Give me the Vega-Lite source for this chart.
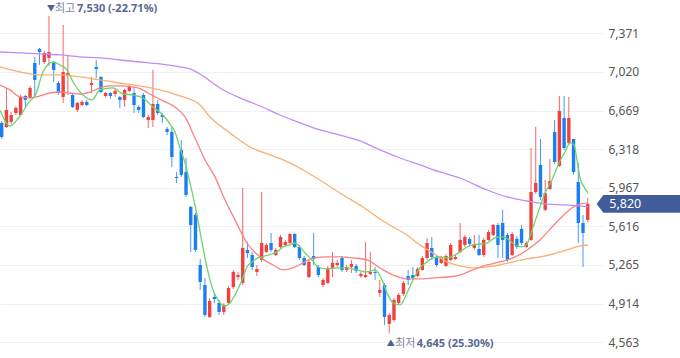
{
  "$schema": "https://vega.github.io/schema/vega-lite/v6.json",
  "width": 603,
  "height": 358,
  "autosize": {"type": "none"},
  "padding": {"left": 0, "top": 0, "right": 77, "bottom": 0},
  "background": "white",
  "view": {"stroke": null},
  "config": {"font": "Noto Sans", "axisY": {"orient": "right", "domain": false, "ticks": false, "labelPadding": 5, "labelFontSize": 12, "labelColor": "#555555", "labelFont": "Noto Sans", "grid": true, "gridColor": "#eff0f3", "gridWidth": 1, "labelFlush": false, "title": null}},
  "datasets": {
    "candles": [
      {"i":0,"o":6557,"h":6575,"l":6411,"c":6429},{"i":1,"o":6520,"h":6875,"l":6511,"c":6675},{"i":2,"o":6566,"h":6657,"l":6547,"c":6629},{"i":3,"o":6647,"h":6711,"l":6629,"c":6693},{"i":4,"o":6629,"h":6811,"l":6620,"c":6793},
      {"i":5,"o":6802,"h":6811,"l":6693,"c":6766},{"i":6,"o":6784,"h":6893,"l":6775,"c":6875},{"i":7,"o":7102,"h":7157,"l":6793,"c":6948},{"i":8,"o":7229,"h":7239,"l":7084,"c":7202},{"i":9,"o":7111,"h":7211,"l":7093,"c":7193},
      {"i":10,"o":7148,"h":7530,"l":7075,"c":7202},{"i":11,"o":7102,"h":7120,"l":6929,"c":7039},{"i":12,"o":6920,"h":6938,"l":6811,"c":6829},{"i":13,"o":6793,"h":7448,"l":6738,"c":7020},{"i":14,"o":6984,"h":7175,"l":6811,"c":7011},
      {"i":15,"o":6811,"h":6820,"l":6693,"c":6702},{"i":16,"o":6675,"h":6748,"l":6657,"c":6738},{"i":17,"o":6720,"h":6766,"l":6711,"c":6748},{"i":18,"o":6748,"h":6766,"l":6711,"c":6720},{"i":19,"o":6902,"h":6975,"l":6829,"c":6920},
      {"i":20,"o":7066,"h":7129,"l":6966,"c":7048},{"i":21,"o":6975,"h":6984,"l":6829,"c":6838},{"i":22,"o":6802,"h":6838,"l":6784,"c":6829},{"i":23,"o":6829,"h":6838,"l":6775,"c":6802},{"i":24,"o":6820,"h":6875,"l":6793,"c":6848},
      {"i":25,"o":6793,"h":6802,"l":6693,"c":6766},{"i":26,"o":6766,"h":6866,"l":6702,"c":6857},{"i":27,"o":6848,"h":6902,"l":6838,"c":6884},{"i":28,"o":6829,"h":6884,"l":6647,"c":6720},{"i":29,"o":6702,"h":6720,"l":6647,"c":6675},
      {"i":30,"o":6811,"h":6829,"l":6602,"c":6611},{"i":31,"o":6584,"h":6629,"l":6511,"c":6611},{"i":32,"o":6584,"h":7039,"l":6520,"c":6729},{"i":33,"o":6729,"h":6766,"l":6629,"c":6647},{"i":34,"o":6629,"h":6647,"l":6557,"c":6611},
      {"i":35,"o":6502,"h":6520,"l":6447,"c":6475},{"i":36,"o":6475,"h":6520,"l":6156,"c":6247},{"i":37,"o":6066,"h":6111,"l":6011,"c":6056},{"i":38,"o":6311,"h":6402,"l":6066,"c":6084},{"i":39,"o":6111,"h":6238,"l":5884,"c":5902},
      {"i":40,"o":5793,"h":5800,"l":5384,"c":5629},{"i":41,"o":5720,"h":5738,"l":5384,"c":5402},{"i":42,"o":5265,"h":5320,"l":5038,"c":5111},{"i":43,"o":5083,"h":5147,"l":4793,"c":4811},{"i":44,"o":4793,"h":4965,"l":4783,"c":4938},
      {"i":45,"o":4974,"h":5002,"l":4920,"c":4956},{"i":46,"o":4920,"h":4947,"l":4811,"c":4838},{"i":47,"o":4838,"h":4920,"l":4811,"c":4902},{"i":48,"o":4920,"h":5074,"l":4911,"c":5056},{"i":49,"o":5065,"h":5220,"l":5047,"c":5202},
      {"i":50,"o":5156,"h":5202,"l":5129,"c":5174},{"i":51,"o":5102,"h":5965,"l":5083,"c":5420},{"i":52,"o":5402,"h":5474,"l":5329,"c":5374},{"i":53,"o":5356,"h":5384,"l":5220,"c":5247},{"i":54,"o":5202,"h":5265,"l":5165,"c":5229},
      {"i":55,"o":5311,"h":5929,"l":5293,"c":5465},{"i":56,"o":5384,"h":5465,"l":5374,"c":5447},{"i":57,"o":5465,"h":5556,"l":5384,"c":5402},{"i":58,"o":5356,"h":5420,"l":5347,"c":5402},{"i":59,"o":5429,"h":5538,"l":5420,"c":5520},
      {"i":60,"o":5447,"h":5493,"l":5438,"c":5474},{"i":61,"o":5465,"h":5556,"l":5456,"c":5547},{"i":62,"o":5547,"h":5556,"l":5420,"c":5429},{"i":63,"o":5429,"h":5447,"l":5311,"c":5329},{"i":64,"o":5329,"h":5347,"l":5256,"c":5265},
      {"i":65,"o":5156,"h":5311,"l":5147,"c":5293},{"i":66,"o":5347,"h":5556,"l":5265,"c":5320},{"i":67,"o":5247,"h":5265,"l":5156,"c":5174},{"i":68,"o":5083,"h":5147,"l":5065,"c":5129},{"i":69,"o":5102,"h":5256,"l":5093,"c":5238},
      {"i":70,"o":5238,"h":5384,"l":5156,"c":5284},{"i":71,"o":5265,"h":5311,"l":5247,"c":5284},{"i":72,"o":5329,"h":5347,"l":5202,"c":5220},{"i":73,"o":5220,"h":5265,"l":5202,"c":5247},{"i":74,"o":5247,"h":5311,"l":5193,"c":5274},
      {"i":75,"o":5256,"h":5274,"l":5193,"c":5211},{"i":76,"o":5165,"h":5202,"l":5147,"c":5184},{"i":77,"o":5156,"h":5474,"l":5147,"c":5174},{"i":78,"o":5184,"h":5384,"l":5174,"c":5202},{"i":79,"o":5202,"h":5247,"l":5129,"c":5193},
      {"i":80,"o":5011,"h":5129,"l":4974,"c":5038},{"i":81,"o":5083,"h":5102,"l":4720,"c":4793},{"i":82,"o":4729,"h":4829,"l":4645,"c":4811},{"i":83,"o":4765,"h":4965,"l":4747,"c":4947},{"i":84,"o":4920,"h":5011,"l":4902,"c":4993},
      {"i":85,"o":5002,"h":5120,"l":4984,"c":5102},{"i":86,"o":5165,"h":5220,"l":5083,"c":5129},{"i":87,"o":5174,"h":5247,"l":5129,"c":5147},{"i":88,"o":5165,"h":5247,"l":5156,"c":5229},{"i":89,"o":5220,"h":5347,"l":5211,"c":5329},
      {"i":90,"o":5329,"h":5511,"l":5311,"c":5465},{"i":91,"o":5420,"h":5520,"l":5311,"c":5338},{"i":92,"o":5338,"h":5356,"l":5247,"c":5265},{"i":93,"o":5284,"h":5347,"l":5274,"c":5329},{"i":94,"o":5256,"h":5365,"l":5247,"c":5347},
      {"i":95,"o":5311,"h":5465,"l":5302,"c":5447},{"i":96,"o":5320,"h":5356,"l":5311,"c":5338},{"i":97,"o":5384,"h":5647,"l":5374,"c":5493},{"i":98,"o":5447,"h":5538,"l":5429,"c":5520},{"i":99,"o":5502,"h":5520,"l":5438,"c":5456},
      {"i":100,"o":5420,"h":5538,"l":5402,"c":5456},{"i":101,"o":5411,"h":5538,"l":5347,"c":5356},{"i":102,"o":5356,"h":5511,"l":5338,"c":5493},{"i":103,"o":5493,"h":5584,"l":5484,"c":5565},{"i":104,"o":5538,"h":5638,"l":5529,"c":5629},
      {"i":105,"o":5629,"h":5647,"l":5329,"c":5447},{"i":106,"o":5647,"h":5766,"l":5329,"c":5493},{"i":107,"o":5538,"h":5556,"l":5293,"c":5311},{"i":108,"o":5356,"h":5565,"l":5347,"c":5547},{"i":109,"o":5502,"h":5529,"l":5411,"c":5429},
      {"i":110,"o":5593,"h":5629,"l":5447,"c":5465},{"i":111,"o":5429,"h":5484,"l":5420,"c":5465},{"i":112,"o":5493,"h":6329,"l":5484,"c":5929},{"i":113,"o":5929,"h":6520,"l":5911,"c":6011},{"i":114,"o":6175,"h":6411,"l":5856,"c":5884},
      {"i":115,"o":5766,"h":6038,"l":5756,"c":5920},{"i":116,"o":5956,"h":6229,"l":5947,"c":6029},{"i":117,"o":6475,"h":6584,"l":6184,"c":6202},{"i":118,"o":6166,"h":6802,"l":6156,"c":6666},{"i":119,"o":6602,"h":6802,"l":6311,"c":6329},
      {"i":120,"o":6375,"h":6793,"l":6356,"c":6602},{"i":121,"o":6411,"h":6411,"l":6084,"c":6111},{"i":122,"o":6020,"h":6193,"l":5465,"c":5647},{"i":123,"o":5647,"h":5720,"l":5247,"c":5556},{"i":124,"o":5675,"h":5875,"l":5656,"c":5820}
    ],
    "ma5": [
      {"i":-0.36,"v":6675},{"i":1.76,"v":6529},{"i":3.87,"v":6620},{"i":5.99,"v":6757},{"i":7.05,"v":6802},{"i":8.74,"v":7020},{"i":10.85,"v":7111},{"i":12.34,"v":7084},{"i":13.82,"v":7040},{"i":15.09,"v":6929},
      {"i":17.2,"v":6811},{"i":19.11,"v":6766},{"i":20.8,"v":6857},{"i":23.55,"v":6875},{"i":25.67,"v":6820},{"i":27.78,"v":6811},{"i":29.9,"v":6784},{"i":32.01,"v":6702},{"i":34.13,"v":6629},{"i":35.61,"v":6547},
      {"i":36.67,"v":6475},{"i":37.73,"v":6329},{"i":38.79,"v":6193},{"i":39.84,"v":6011},{"i":41.11,"v":5766},{"i":42.17,"v":5520},{"i":43.23,"v":5284},{"i":44.71,"v":5038},{"i":45.77,"v":4947},{"i":47.04,"v":4892},
      {"i":48.31,"v":4920},{"i":49.37,"v":4993},{"i":50.85,"v":5129},{"i":51.9,"v":5247},{"i":52.96,"v":5293},{"i":54.23,"v":5329},{"i":55.71,"v":5347},{"i":57.19,"v":5365},{"i":58.25,"v":5384},{"i":59.52,"v":5429},
      {"i":61,"v":5447},{"i":62.06,"v":5465},{"i":63.12,"v":5429},{"i":64.18,"v":5374},{"i":65.66,"v":5311},{"i":66.93,"v":5247},{"i":68.83,"v":5229},{"i":70.95,"v":5238},{"i":73.06,"v":5238},{"i":75.18,"v":5220},
      {"i":77.29,"v":5202},{"i":78.99,"v":5220},{"i":80.47,"v":5129},{"i":81.53,"v":5011},{"i":82.8,"v":4920},{"i":84.28,"v":4902},{"i":85.76,"v":5011},{"i":87.03,"v":5129},{"i":88.51,"v":5238},{"i":89.99,"v":5293},
      {"i":91.26,"v":5329},{"i":92.74,"v":5338},{"i":94.22,"v":5329},{"i":95.49,"v":5347},{"i":96.97,"v":5384},{"i":98.45,"v":5429},{"i":99.72,"v":5447},{"i":101.21,"v":5456},{"i":102.69,"v":5465},{"i":104.38,"v":5511},
      {"i":105.86,"v":5520},{"i":107.34,"v":5493},{"i":108.61,"v":5447},{"i":110.09,"v":5429},{"i":111.15,"v":5456},{"i":112.21,"v":5584},{"i":113.69,"v":5766},{"i":114.96,"v":5920},{"i":116.44,"v":6038},{"i":117.92,"v":6193},
      {"i":119.19,"v":6293},{"i":120.25,"v":6375},{"i":121.1,"v":6356},{"i":121.73,"v":6220},{"i":122.37,"v":6056},{"i":123.22,"v":5975},{"i":124.06,"v":5920}
    ],
    "ma20": [
      {"i":-0.36,"v":6902},{"i":1.76,"v":6857},{"i":3.87,"v":6793},{"i":5.99,"v":6784},{"i":8.1,"v":6802},{"i":10.22,"v":6829},{"i":12.34,"v":6838},{"i":14.45,"v":6829},{"i":16.57,"v":6820},{"i":18.68,"v":6838},
      {"i":20.8,"v":6875},{"i":22.92,"v":6893},{"i":25.03,"v":6893},{"i":28.84,"v":6875},{"i":30.96,"v":6829},{"i":33.71,"v":6766},{"i":36.67,"v":6702},{"i":38.79,"v":6611},{"i":40.9,"v":6420},{"i":43.02,"v":6220},
      {"i":45.13,"v":6066},{"i":47.25,"v":5856},{"i":49.37,"v":5675},{"i":51.9,"v":5465},{"i":54.65,"v":5338},{"i":57.41,"v":5265},{"i":59.52,"v":5220},{"i":61.64,"v":5238},{"i":63.75,"v":5284},{"i":65.87,"v":5329},
      {"i":68.83,"v":5338},{"i":71.58,"v":5338},{"i":74.33,"v":5329},{"i":77.29,"v":5311},{"i":80.05,"v":5238},{"i":82.8,"v":5174},{"i":85.76,"v":5138},{"i":88.51,"v":5138},{"i":91.26,"v":5147},{"i":94.22,"v":5156},
      {"i":96.97,"v":5174},{"i":99.72,"v":5220},{"i":102.69,"v":5265},{"i":105.44,"v":5293},{"i":108.19,"v":5329},{"i":111.15,"v":5402},{"i":113.9,"v":5493},{"i":116.65,"v":5620},{"i":119.61,"v":5747},{"i":121.73,"v":5811},
      {"i":124.06,"v":5829}
    ],
    "ma60": [
      {"i":-0.36,"v":7066},{"i":3.87,"v":7020},{"i":8.1,"v":6993},{"i":12.34,"v":6993},{"i":16.57,"v":6975},{"i":20.8,"v":6948},{"i":25.03,"v":6920},{"i":29.27,"v":6893},{"i":33.5,"v":6857},{"i":37.73,"v":6802},
      {"i":41.96,"v":6720},{"i":44.08,"v":6611},{"i":48.31,"v":6466},{"i":52.54,"v":6338},{"i":56.77,"v":6266},{"i":61,"v":6193},{"i":63.75,"v":6129},{"i":67.99,"v":6020},{"i":72.22,"v":5902},{"i":76.45,"v":5793},
      {"i":80.05,"v":5684},{"i":82.8,"v":5611},{"i":85.76,"v":5538},{"i":88.51,"v":5447},{"i":91.26,"v":5374},{"i":94.22,"v":5293},{"i":96.97,"v":5256},{"i":99.72,"v":5238},{"i":102.69,"v":5247},{"i":105.44,"v":5265},
      {"i":108.19,"v":5293},{"i":111.15,"v":5320},{"i":113.9,"v":5338},{"i":116.65,"v":5365},{"i":119.61,"v":5402},{"i":122.37,"v":5438},{"i":124.06,"v":5447}
    ],
    "ma120": [
      {"i":-0.36,"v":7202},{"i":3.87,"v":7193},{"i":8.1,"v":7184},{"i":12.34,"v":7175},{"i":16.57,"v":7157},{"i":20.8,"v":7148},{"i":25.03,"v":7129},{"i":29.27,"v":7111},{"i":33.5,"v":7093},{"i":37.73,"v":7066},
      {"i":39.84,"v":7048},{"i":41.96,"v":7002},{"i":46.19,"v":6875},{"i":50.42,"v":6784},{"i":54.65,"v":6711},{"i":58.89,"v":6629},{"i":63.12,"v":6557},{"i":67.35,"v":6493},{"i":71.58,"v":6447},{"i":75.81,"v":6393},
      {"i":80.05,"v":6311},{"i":84.28,"v":6238},{"i":88.51,"v":6175},{"i":92.74,"v":6111},{"i":96.97,"v":6056},{"i":102.69,"v":5947},{"i":106.92,"v":5884},{"i":111.15,"v":5847},{"i":114.96,"v":5820},{"i":119.19,"v":5811},
      {"i":124.06,"v":5793}
    ],
    "notes": [
      {"i":10,"v":7530,"tri":"▼","kind":"최고","num":"7,530 (-22.71%)","side":"top"},
      {"i":82,"v":4645,"tri":"▲","kind":"최저","num":"4,645 (25.30%)","side":"bottom"}
    ]
  },
  "encoding": {
    "x": {"field": "i", "type": "quantitative", "scale": {"domain": [-0.36, 127.23], "nice": false, "zero": false}, "axis": null}
  },
  "layer": [
    {
      "data": {"name": "candles"},
      "mark": {"type": "rule", "strokeWidth": 1, "opacity": 0.8},
      "encoding": {
        "y": {"field": "l", "type": "quantitative", "scale": {"domain": [4419.3, 7674.7], "nice": false, "zero": false},
          "axis": {"values": [4563, 4914, 5265, 5616, 5967, 6318, 6669, 7020, 7371], "format": ",d"}},
        "y2": {"field": "h"},
        "color": {"condition": {"test": "datum.c >= datum.o", "value": "#f0413f"}, "value": "#1b7ff0"}
      }
    },
    {
      "data": {"name": "candles"},
      "mark": {"type": "rule", "strokeWidth": 3.4, "strokeCap": "butt"},
      "encoding": {
        "y": {"field": "o", "type": "quantitative", "scale": {"domain": [4419.3, 7674.7], "nice": false, "zero": false},
          "axis": {"values": [4563, 4914, 5265, 5616, 5967, 6318, 6669, 7020, 7371], "format": ",d"}},
        "y2": {"field": "c"},
        "color": {"condition": {"test": "datum.c >= datum.o", "value": "#f0413f"}, "value": "#1b7ff0"}
      }
    },
    {
      "data": {"name": "ma120"},
      "mark": {"type": "line", "interpolate": "monotone", "strokeWidth": 1.3, "color": "#c08cf7"},
      "encoding": {
        "y": {"field": "v", "type": "quantitative", "scale": {"domain": [4419.3, 7674.7], "nice": false, "zero": false},
          "axis": {"values": [4563, 4914, 5265, 5616, 5967, 6318, 6669, 7020, 7371], "format": ",d"}}
      }
    },
    {
      "data": {"name": "ma60"},
      "mark": {"type": "line", "interpolate": "monotone", "strokeWidth": 1.3, "color": "#fbb072"},
      "encoding": {
        "y": {"field": "v", "type": "quantitative", "scale": {"domain": [4419.3, 7674.7], "nice": false, "zero": false},
          "axis": {"values": [4563, 4914, 5265, 5616, 5967, 6318, 6669, 7020, 7371], "format": ",d"}}
      }
    },
    {
      "data": {"name": "ma20"},
      "mark": {"type": "line", "interpolate": "monotone", "strokeWidth": 1.3, "color": "#fa8282"},
      "encoding": {
        "y": {"field": "v", "type": "quantitative", "scale": {"domain": [4419.3, 7674.7], "nice": false, "zero": false},
          "axis": {"values": [4563, 4914, 5265, 5616, 5967, 6318, 6669, 7020, 7371], "format": ",d"}}
      }
    },
    {
      "data": {"name": "ma5"},
      "mark": {"type": "line", "interpolate": "monotone", "strokeWidth": 1.3, "color": "#6cd46c"},
      "encoding": {
        "y": {"field": "v", "type": "quantitative", "scale": {"domain": [4419.3, 7674.7], "nice": false, "zero": false},
          "axis": {"values": [4563, 4914, 5265, 5616, 5967, 6318, 6669, 7020, 7371], "format": ",d"}}
      }
    },
    {
      "data": {"name": "notes"},
      "transform": [{"filter": "datum.side == 'top'"}],
      "mark": {"type": "text", "align": "left", "baseline": "middle", "dx": -2, "dy": -7, "fontSize": 8, "color": "#52608c", "font": "Noto Sans CJK KR"},
      "encoding": {
        "y": {"field": "v", "type": "quantitative", "scale": {"domain": [4419.3, 7674.7], "nice": false, "zero": false},
          "axis": {"values": [4563, 4914, 5265, 5616, 5967, 6318, 6669, 7020, 7371], "format": ",d"}},
        "text": {"field": "tri"}
      }
    },
    {
      "data": {"name": "notes"},
      "transform": [{"filter": "datum.side == 'top'"}],
      "mark": {"type": "text", "align": "left", "baseline": "middle", "dx": 6, "dy": -7, "fontSize": 11, "color": "#7a849e", "font": "Noto Sans CJK KR"},
      "encoding": {
        "y": {"field": "v", "type": "quantitative", "scale": {"domain": [4419.3, 7674.7], "nice": false, "zero": false},
          "axis": {"values": [4563, 4914, 5265, 5616, 5967, 6318, 6669, 7020, 7371], "format": ",d"}},
        "text": {"field": "kind"}
      }
    },
    {
      "data": {"name": "notes"},
      "transform": [{"filter": "datum.side == 'top'"}],
      "mark": {"type": "text", "align": "left", "baseline": "middle", "dx": 28, "dy": -7, "fontSize": 11, "fontWeight": "bold", "color": "#5a6791", "font": "Noto Sans"},
      "encoding": {
        "y": {"field": "v", "type": "quantitative", "scale": {"domain": [4419.3, 7674.7], "nice": false, "zero": false},
          "axis": {"values": [4563, 4914, 5265, 5616, 5967, 6318, 6669, 7020, 7371], "format": ",d"}},
        "text": {"field": "num"}
      }
    },
    {
      "data": {"name": "notes"},
      "transform": [{"filter": "datum.side == 'bottom'"}],
      "mark": {"type": "text", "align": "left", "baseline": "middle", "dx": -2.5, "dy": 11, "fontSize": 8, "color": "#52608c", "font": "Noto Sans CJK KR"},
      "encoding": {
        "y": {"field": "v", "type": "quantitative", "scale": {"domain": [4419.3, 7674.7], "nice": false, "zero": false},
          "axis": {"values": [4563, 4914, 5265, 5616, 5967, 6318, 6669, 7020, 7371], "format": ",d"}},
        "text": {"field": "tri"}
      }
    },
    {
      "data": {"name": "notes"},
      "transform": [{"filter": "datum.side == 'bottom'"}],
      "mark": {"type": "text", "align": "left", "baseline": "middle", "dx": 6, "dy": 11, "fontSize": 11, "color": "#7a849e", "font": "Noto Sans CJK KR"},
      "encoding": {
        "y": {"field": "v", "type": "quantitative", "scale": {"domain": [4419.3, 7674.7], "nice": false, "zero": false},
          "axis": {"values": [4563, 4914, 5265, 5616, 5967, 6318, 6669, 7020, 7371], "format": ",d"}},
        "text": {"field": "kind"}
      }
    },
    {
      "data": {"name": "notes"},
      "transform": [{"filter": "datum.side == 'bottom'"}],
      "mark": {"type": "text", "align": "left", "baseline": "middle", "dx": 27.5, "dy": 11, "fontSize": 11, "fontWeight": "bold", "color": "#5a6791", "font": "Noto Sans"},
      "encoding": {
        "y": {"field": "v", "type": "quantitative", "scale": {"domain": [4419.3, 7674.7], "nice": false, "zero": false},
          "axis": {"values": [4563, 4914, 5265, 5616, 5967, 6318, 6669, 7020, 7371], "format": ",d"}},
        "text": {"field": "num"}
      }
    },
    {
      "data": {"name": "candles"},
      "transform": [{"filter": "datum.i == 124"}],
      "mark": {"type": "point", "filled": true, "shape": "M -1 0 L -0.84 -0.2125 L 1 -0.2125 L 1 0.2125 L -0.84 0.2125 Z", "size": 6939, "opacity": 1, "color": "#405c99", "xOffset": 50.6, "clip": false},
      "encoding": {
        "y": {"field": "c", "type": "quantitative", "scale": {"domain": [4419.3, 7674.7], "nice": false, "zero": false},
          "axis": {"values": [4563, 4914, 5265, 5616, 5967, 6318, 6669, 7020, 7371], "format": ",d"}}
      }
    },
    {
      "data": {"name": "candles"},
      "transform": [{"filter": "datum.i == 124"}],
      "mark": {"type": "text", "align": "left", "baseline": "middle", "dx": 21.5, "fontSize": 12.5, "color": "white", "font": "Noto Sans"},
      "encoding": {
        "y": {"field": "c", "type": "quantitative", "scale": {"domain": [4419.3, 7674.7], "nice": false, "zero": false},
          "axis": {"values": [4563, 4914, 5265, 5616, 5967, 6318, 6669, 7020, 7371], "format": ",d"}},
        "text": {"field": "c", "type": "quantitative", "format": ",d"}
      }
    }
  ]
}
